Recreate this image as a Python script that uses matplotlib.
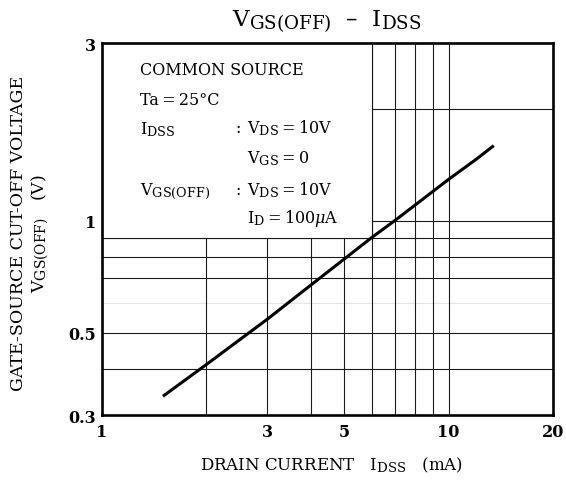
import matplotlib
matplotlib.use("Agg")
import matplotlib.pyplot as plt
from matplotlib.patches import Rectangle
try:
    import matplotlib._mathtext as _mt
    _mt.SHRINK_FACTOR = 0.8
except Exception:
    pass

plt.rcParams['font.family'] = ['DejaVu Serif']
plt.rcParams['mathtext.fontset'] = 'dejavuserif'

# data
idss = [1.5, 2.0, 3.0, 4.0, 5.0, 6.0, 7.0, 8.0, 10.0, 12.0, 13.5]
vgs_off = [0.337, 0.41, 0.543, 0.67, 0.788, 0.90, 1.0, 1.10, 1.29, 1.46, 1.59]

x_grid = [2, 3, 4, 5, 6, 7, 8, 9, 10]
y_grid = [0.4, 0.5, 0.7, 0.8, 0.9, 1, 2]
y_faint = [0.6]
x_ticks = [1, 3, 5, 10, 20]
x_ticklabels = ['1', '3', '5', '10', '20']
y_ticks = [0.3, 0.5, 1, 3]
y_ticklabels = ['0.3', '0.5', '1', '3']

fig = plt.figure(figsize=(5.66, 4.81), dpi=100)
ax = fig.add_axes([0.180, 0.135, 0.797, 0.7735])
ax.set_xscale('log')
ax.set_yscale('log')
ax.set_xlim(1, 20)
ax.set_ylim(0.3, 3)

gc = '#1a1a1a'
for xv in x_grid:
    ax.axvline(xv, color=gc, lw=0.8, zorder=1)
for yv in y_grid:
    ax.axhline(yv, color=gc, lw=0.8, zorder=1)
for yv in y_faint:
    ax.axhline(yv, color='#e4e4e4', lw=0.8, zorder=0.9)

# white condition box hides the grid in the upper left
ax.add_patch(Rectangle((1, 0.9), 5, 2.1, facecolor='white', edgecolor=gc,
                       lw=0.8, zorder=1.5))

ax.plot(idss, vgs_off, color='black', lw=2.2, zorder=3, solid_capstyle='butt')

ax.set_xticks(x_ticks)
ax.set_xticklabels(x_ticklabels)
ax.set_yticks(y_ticks)
ax.set_yticklabels(y_ticklabels)
ax.xaxis.set_minor_locator(matplotlib.ticker.NullLocator())
ax.yaxis.set_minor_locator(matplotlib.ticker.NullLocator())
ax.tick_params(length=0, labelsize=11.5)
ax.tick_params(axis='x', pad=6)
ax.tick_params(axis='y', pad=4)
for lab in ax.get_xticklabels() + ax.get_yticklabels():
    lab.set_fontweight('bold')
for s in ax.spines.values():
    s.set_linewidth(1.9)
    s.set_zorder(4)

ts = '\u2009'
fs = 11.5
tk = dict(transform=ax.transAxes, fontsize=fs, va='baseline', zorder=5)
ax.text(0.084, 0.917, 'COMMON SOURCE', **tk)
ax.text(0.084, 0.836, f'Ta{ts}={ts}25°C', **tk)
ax.text(0.084, 0.757, r'I$_\mathregular{DSS}$', **tk)
ax.text(0.296, 0.761, ':', **tk)
ax.text(0.322, 0.761, r'V$_\mathregular{DS}$' + f'{ts}={ts}10V', **tk)
ax.text(0.322, 0.680, r'V$_\mathregular{GS}$' + f'{ts}={ts}0', **tk)
ax.text(0.084, 0.594, r'V$_\mathregular{GS(OFF)}$', **tk)
ax.text(0.296, 0.594, ':', **tk)
ax.text(0.322, 0.594, r'V$_\mathregular{DS}$' + f'{ts}={ts}10V', **tk)
ax.text(0.322, 0.519, r'I$_\mathregular{D}$' + f'{ts}={ts}' + r'100$\mu$A', **tk)

fig.text(0.577, 0.955, r'V$_\mathregular{GS(OFF)}$  –  I$_\mathregular{DSS}$',
         ha='center', va='center', fontsize=16.5)
fig.text(0.585, 0.033, r'DRAIN CURRENT   I$_\mathregular{DSS}$   (mA)',
         ha='center', va='center', fontsize=12)
fig.text(0.032, 0.515, 'GATE-SOURCE CUT-OFF VOLTAGE', rotation=90,
         ha='center', va='center', fontsize=12.5)
fig.text(0.071, 0.515, r'V$_\mathregular{GS(OFF)}$   (V)', rotation=90,
         ha='center', va='center', fontsize=12.5)

fig.savefig('out.png', dpi=100)
